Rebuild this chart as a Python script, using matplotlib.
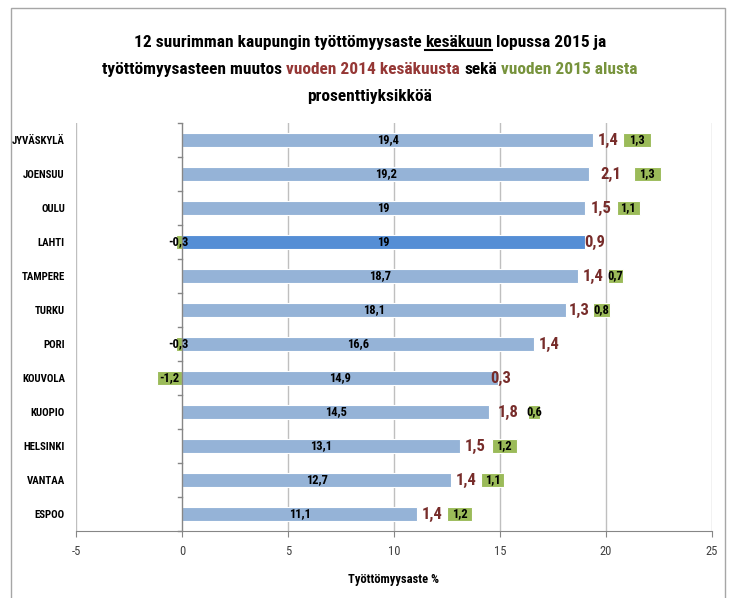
import numpy as np
import matplotlib
matplotlib.use("Agg")
import matplotlib.pyplot as plt
from matplotlib import font_manager
from matplotlib.patches import Rectangle

# data

cities = ["JYVÄSKYLÄ", "JOENSUU", "OULU", "LAHTI", "TAMPERE", "TURKU",
          "PORI", "KOUVOLA", "KUOPIO", "HELSINKI", "VANTAA", "ESPOO"]
rate = [19.4, 19.2, 19.0, 19.0, 18.7, 18.1, 16.6, 14.9, 14.5, 13.1, 12.7, 11.1]
change_2014 = [1.4, 2.1, 1.5, 0.9, 1.4, 1.3, 1.4, 0.3, 1.8, 1.5, 1.4, 1.4]
change_2015 = [1.3, 1.3, 1.1, -0.3, 0.7, 0.8, -0.3, -1.2, 0.6, 1.2, 1.1, 1.2]
highlight = "LAHTI"
xticks = [-5, 0, 5, 10, 15, 20, 25]

# pick a narrow font if one is around

available = {f.name for f in font_manager.fontManager.ttflist}
font = "Liberation Sans"
for name in ["Liberation Sans Narrow", "Arial Narrow", "Roboto Condensed", "Open Sans Condensed"]:
    if name in available:
        font = name
        break
plt.rcParams["font.family"] = [font, "DejaVu Sans"]

blue = "#95B3D7"
blue_dark = "#558ED5"
green = "#9BBB59"
red = "#772C2A"
grid = "#BFBFBF"
axis = "#868686"


def fmt(v):
    return f"{v:g}".replace(".", ",")


fig = plt.figure(figsize=(7.3, 5.98), dpi=100)
ax = fig.add_axes([76 / 730, (598 - 531) / 598, 636 / 730, (531 - 123) / 598])

y = np.arange(len(cities))
rate_a = np.array(rate)
c14 = np.array(change_2014)
c15 = np.array(change_2015)
colors = [blue_dark if c == highlight else blue for c in cities]

ax.barh(y, rate_a, height=0.4, color=colors, edgecolor="white", linewidth=0.8, zorder=3)
green_left = np.where(c15 > 0, rate_a + c14, 0)
ax.barh(y, c15, left=green_left, height=0.4, color=green, edgecolor="white", linewidth=0.8, zorder=3)

for i in range(len(cities)):
    ax.text(rate_a[i] / 2, y[i], fmt(rate_a[i]), ha="center", va="center",
            fontsize=9, weight="bold", color="black", zorder=5)
    ax.text(rate_a[i] + c14[i] / 2, y[i], fmt(c14[i]), ha="center", va="center",
            fontsize=12, weight="bold", color=red, zorder=5)
    ax.text(green_left[i] + c15[i] / 2, y[i], fmt(c15[i]), ha="center", va="center",
            fontsize=9, weight="bold", color="black", zorder=5)

ax.set_xlim(-5, 25)
ax.set_ylim(len(cities) - 0.5, -0.5)
ax.set_xticks(xticks)
ax.set_xticklabels([str(t) for t in xticks], fontsize=9, color="#404040")
ax.set_yticks(y)
ax.set_yticklabels(cities, fontsize=7.8, weight="bold")
ax.tick_params(axis="y", length=0, pad=8)
ax.tick_params(axis="x", length=4, color=axis, pad=6)

for t in xticks:
    if t != 0:
        ax.axvline(t, color=grid, linewidth=1, zorder=1)
ax.axvline(0, color=axis, linewidth=1, zorder=4)
# category boundary ticks on the zero axis
for b in np.arange(-0.5, len(cities), 1):
    ax.plot([-0.2, 0], [b, b], color=axis, linewidth=1, zorder=4, clip_on=False)

for s in ["top", "right", "left"]:
    ax.spines[s].set_visible(False)
ax.spines["bottom"].set_color(axis)

ax.set_xlabel("Työttömyysaste %", fontsize=9, weight="bold", labelpad=11)

# outer frame
fig.patches.append(Rectangle((10.5 / 730, -0.02), 714 / 730, 1.02 - 7.5 / 598,
                             transform=fig.transFigure, fill=False,
                             edgecolor="#A6A6A6", linewidth=1))

# title with coloured parts and an underlined word
renderer = fig.canvas.get_renderer()
title_size = 12.5
title_lines = [
    [("12 suurimman kaupungin työttömyysaste", "black", False),
     ("kesäkuun", "black", True),
     ("lopussa 2015 ja", "black", False)],
    [("työttömyysasteen muutos", "black", False),
     ("vuoden 2014 kesäkuusta", "#953735", False),
     ("sekä", "black", False),
     ("vuoden 2015 alusta", "#77933C", False)],
    [("prosenttiyksikköä", "black", False)],
]
baselines = [47, 74, 101]
cx = 370 / 730

probe_a = fig.text(0, 0, "a a", fontsize=title_size, weight="bold")
probe_b = fig.text(0, 0, "aa", fontsize=title_size, weight="bold")
space = (probe_a.get_window_extent(renderer).width - probe_b.get_window_extent(renderer).width)
probe_a.remove()
probe_b.remove()

for pieces, base in zip(title_lines, baselines):
    yy = 1 - base / 598
    items = []
    for text, col, und in pieces:
        t = fig.text(0, yy, text, fontsize=title_size, weight="bold", color=col,
                     ha="left", va="baseline")
        items.append((t, t.get_window_extent(renderer).width, und))
    total = sum(w for _, w, _ in items) + space * (len(items) - 1)
    x = cx * 730 - total / 2
    for t, w, und in items:
        t.set_x(x / 730)
        if und:
            fig.lines.append(plt.Line2D([x / 730, (x + w) / 730], [yy - 3 / 598, yy - 3 / 598],
                                        transform=fig.transFigure, color="black", linewidth=1.5))
        x += w + space

fig.savefig("out.png", dpi=100)
